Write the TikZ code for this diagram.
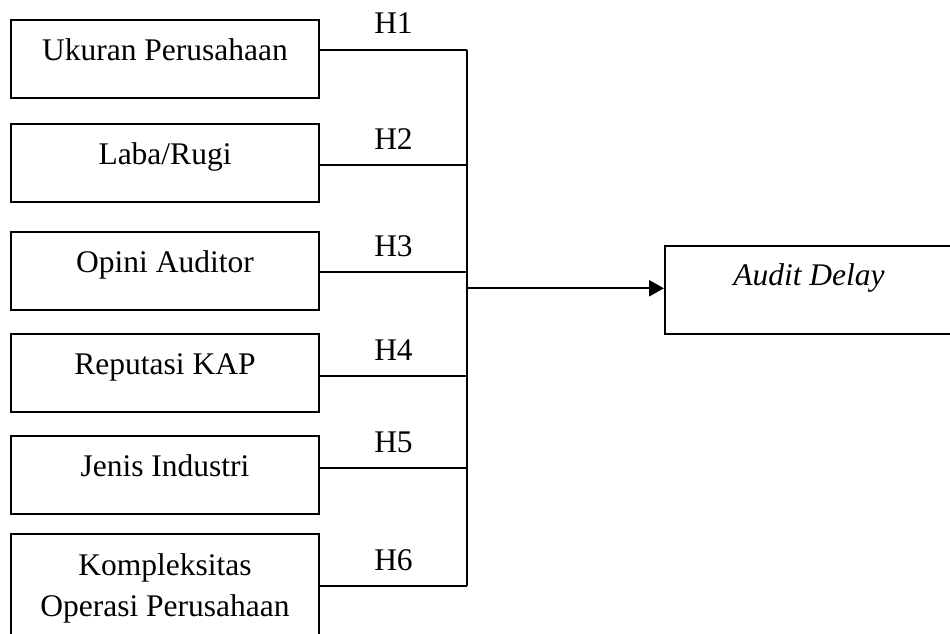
\documentclass[tikz,border=0pt]{standalone}
\usepackage{fontspec}
\setmainfont{Liberation Serif}
\usetikzlibrary{arrows.meta}

\tikzset{
    var/.style={draw, line width=2pt, minimum width=308pt, minimum height=78pt, inner sep=0pt, text height=22pt, text depth=19pt},
    vartwo/.style={draw, line width=2pt, minimum width=308pt, minimum height=108pt, inner sep=0pt, align=center},
    dep/.style={draw, line width=2pt, minimum width=288pt, minimum height=88pt, inner sep=0pt, text height=22pt, text depth=32pt, font=\fontsize{31.5}{41}\selectfont\itshape},
    link/.style={line width=1.7pt},
    hyp/.style={anchor=base, yshift=16pt, inner sep=0pt}
}

\begin{document}
\begin{tikzpicture}[x=1pt, y=-1pt, font=\fontsize{31.5}{41}\selectfont]
            \clip (0,0) rectangle (950,634);

            \node[var] (ukuran) at (165,58.8) {Ukuran Perusahaan};
            \node[var] (laba) at (165,162.9) {Laba/Rugi};
            \node[var] (opini) at (165,271) {Opini Auditor};
            \node[var] (reputasi) at (165,372.9) {Reputasi KAP};
            \node[var] (jenis) at (165,474.9) {Jenis Industri};
            \node[vartwo] (kompleks) at (165,588) {Kompleksitas\\Operasi Perusahaan};
            \node[dep] (delay) at (809,290) {Audit Delay};

            \coordinate (j1) at (467,50);
            \coordinate (j2) at (467,165);
            \coordinate (j3) at (467,272);
            \coordinate (j4) at (467,376);
            \coordinate (j5) at (467,468);
            \coordinate (j6) at (467,586);
            \coordinate (jout) at (467,288.3);

            \draw[link] (ukuran.east |- j1) -- node[hyp] (h1) {H1} (j1);
            \draw[link] (laba.east |- j2) -- node[hyp] (h2) {H2} (j2);
            \draw[link] (opini.east |- j3) -- node[hyp] (h3) {H3} (j3);
            \draw[link] (reputasi.east |- j4) -- node[hyp] (h4) {H4} (j4);
            \draw[link] (jenis.east |- j5) -- node[hyp] (h5) {H5} (j5);
            \draw[link] (kompleks.east |- j6) -- node[hyp] (h6) {H6} (j6);
            \draw[link] (j1) -- (j6);
            \draw[line width=2.3pt, -{Triangle[length=15pt, width=16pt]}] (jout) -- (delay.west |- jout);
        \end{tikzpicture}
\end{document}
